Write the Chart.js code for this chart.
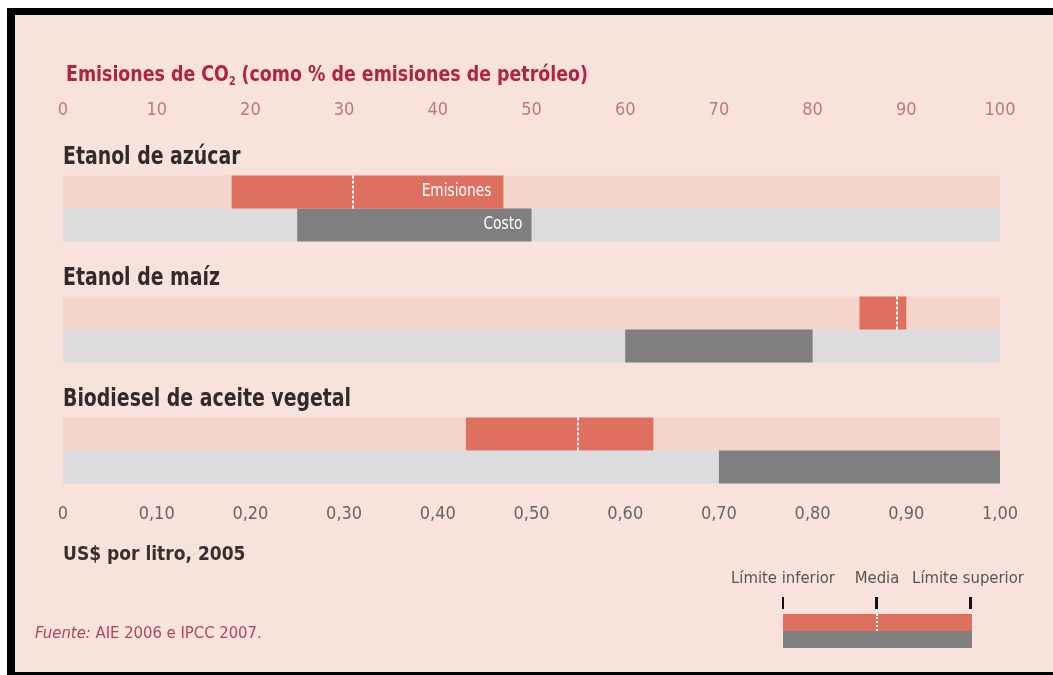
<!DOCTYPE html>
<html lang="es">
<head>
<meta charset="UTF-8">
<title>Biocombustibles: emisiones y costo</title>
<script src="https://cdn.jsdelivr.net/npm/chart.js"></script>
<style>
  body { margin: 0; width: 1053px; height: 675px; overflow: hidden; background: #fff;
         font-family: "Liberation Sans Narrow", "DejaVu Sans Condensed", "Roboto Condensed", sans-serif; }
  .frame { position: absolute; left: 7px; top: 8px; right: 0; height: 657px; background: #f8e3dc;
           border-left: 8px solid #000; border-top: 7px solid #000; border-bottom: 4px solid #000; }
  .chart-box { position: absolute; left: 0; top: 0; width: 1053px; height: 675px; }
  .txt { position: absolute; white-space: nowrap; line-height: 1; transform-origin: 0 0; }
  .title { left: 66px; top: 63px; font-size: 22px; font-weight: bold; color: #b3223f; transform: scaleX(0.88); }
  .title sub { font-size: 12px; vertical-align: -4px; }
  .unit { left: 63px; top: 544px; font-size: 19px; font-weight: bold; color: #3a3030; }
  .source { left: 35px; top: 625px; font-size: 16.5px; color: #b04560; }
  .legend-lbl { top: 570px; font-size: 16.5px; color: #555; transform: translateX(-50%); }
  .mark { position: absolute; top: 597px; height: 12px; background: #111; }
  .key { position: absolute; left: 783px; width: 189px; height: 17px; }
</style>
</head>
<body>
<div class="frame"></div>
<div class="chart-box"><canvas id="chart"></canvas></div>

<div class="txt title">Emisiones de CO<sub>2</sub> (como % de emisiones de petróleo)</div>
<div class="txt unit">US$ por litro, 2005</div>
<div class="txt source"><i>Fuente:</i> AIE 2006 e IPCC 2007.</div>

<div class="txt legend-lbl" style="left:783px">Límite inferior</div>
<div class="txt legend-lbl" style="left:877px">Media</div>
<div class="txt legend-lbl" style="left:968px">Límite superior</div>
<div class="mark" style="left:782px;width:2px"></div>
<div class="mark" style="left:875px;width:3px"></div>
<div class="mark" style="left:969px;width:3px"></div>
<div class="key" style="top:614px;background:#df6f5e"></div>
<div class="key" style="top:631px;background:#7f7f7f"></div>
<div style="position:absolute;left:876px;top:614px;width:0;height:17px;border-left:2px dotted #fff"></div>

<script>
const combustibles = ['Etanol de azúcar', 'Etanol de maíz', 'Biodiesel de aceite vegetal'];
// emisiones de CO2, % de las del petróleo: [límite inferior, límite superior]
const emisionRango = [[18, 47], [85, 90], [43, 63]];
const emisionMedia = [31, 89, 55];
// costo, US$ por litro 2005
const costoRango = [[0.25, 0.50], [0.60, 0.80], [0.70, 1.00]];
const emisionTicks = [0, 10, 20, 30, 40, 50, 60, 70, 80, 90, 100];
const costoTicks = [0, 0.1, 0.2, 0.3, 0.4, 0.5, 0.6, 0.7, 0.8, 0.9, 1.0];

const FONT = '"Liberation Sans Narrow", "DejaVu Sans Condensed", "Roboto Condensed", sans-serif';

const toPoints = (ranges) => ranges.map((r, i) => ({ x: r, y: i }));

// condensed text: draw with a horizontal squeeze
function squeezedText(ctx, text, x, y, sx) {
  ctx.save();
  ctx.translate(x, y);
  ctx.scale(sx, 1);
  ctx.fillText(text, 0, 0);
  ctx.restore();
}

// white dotted mean line, row titles and in-bar labels
const overlay = {
  id: 'overlay',
  afterDatasetsDraw(chart) {
    const ctx = chart.ctx;
    const xE = chart.scales.xE;
    const em = chart.getDatasetMeta(0);
    const co = chart.getDatasetMeta(1);
    ctx.save();
    ctx.strokeStyle = '#fff';
    ctx.lineWidth = 2;
    ctx.setLineDash([3, 2]);
    em.data.forEach((bar, i) => {
      const x = Math.round(xE.getPixelForValue(emisionMedia[i]));
      ctx.beginPath();
      ctx.moveTo(x, bar.y - bar.height / 2);
      ctx.lineTo(x, bar.y + bar.height / 2);
      ctx.stroke();
    });
    ctx.setLineDash([]);

    ctx.fillStyle = '#332b2b';
    ctx.font = 'bold 25px ' + FONT;
    ctx.textBaseline = 'middle';
    ctx.textAlign = 'left';
    em.data.forEach((bar, i) => {
      squeezedText(ctx, combustibles[i], chart.chartArea.left, bar.y - bar.height / 2 - 18, 0.84);
    });

    ctx.fillStyle = '#fff';
    ctx.font = '17px ' + FONT;
    ctx.textAlign = 'right';
    squeezedText(ctx, 'Emisiones', em.data[0].x - 12, em.data[0].y, 0.9);
    squeezedText(ctx, 'Costo', co.data[0].x - 9, co.data[0].y, 0.9);
    ctx.restore();
  }
};

new Chart(document.getElementById('chart'), {
  type: 'bar',
  data: {
    datasets: [
      { data: toPoints(emisionRango), xAxisID: 'xE', stack: 'E', backgroundColor: '#df6f5e' },
      { data: toPoints(costoRango), xAxisID: 'xC', stack: 'C', backgroundColor: '#7f7f7f' },
      { data: toPoints(combustibles.map(() => [0, 100])), xAxisID: 'xE', stack: 'E', backgroundColor: '#f5d4cb' },
      { data: toPoints(combustibles.map(() => [0, 1])), xAxisID: 'xC', stack: 'C', backgroundColor: '#dcdcde' }
    ]
  },
  options: {
    indexAxis: 'y',
    responsive: true,
    maintainAspectRatio: false,
    animation: false,
    categoryPercentage: 0.545,
    barPercentage: 1,
    layout: { padding: { left: 63, right: 53, top: 98, bottom: 149.7 } },
    scales: {
      y: {
        type: 'linear', reverse: true, min: -0.5, max: 2.44, offset: false, display: false,
        afterBuildTicks: (s) => { s.ticks = combustibles.map((c, i) => ({ value: i })); }
      },
      xE: {
        type: 'linear', position: 'top', min: 0, max: 100, stacked: false,
        afterBuildTicks: (s) => { s.ticks = emisionTicks.map(v => ({ value: v })); },
        afterFit: (s) => { s.height = 50; },
        grid: { display: false, drawTicks: false },
        border: { display: false },
        ticks: { padding: 27.2, color: '#b87a7a', font: { family: FONT, size: 18 } }
      },
      xC: {
        type: 'linear', position: 'bottom', min: 0, max: 1, stacked: false,
        afterBuildTicks: (s) => { s.ticks = costoTicks.map(v => ({ value: v })); },
        afterFit: (s) => { s.height = 21.6; },
        grid: { display: false, drawTicks: false },
        border: { display: false },
        ticks: {
          padding: 0, color: '#666', font: { family: FONT, size: 18 },
          callback: (v) => v === 0 ? '0' : v.toFixed(2).replace('.', ',')
        }
      }
    },
    plugins: { legend: { display: false }, tooltip: { enabled: false } }
  },
  plugins: [overlay]
});
</script>
</body>
</html>
